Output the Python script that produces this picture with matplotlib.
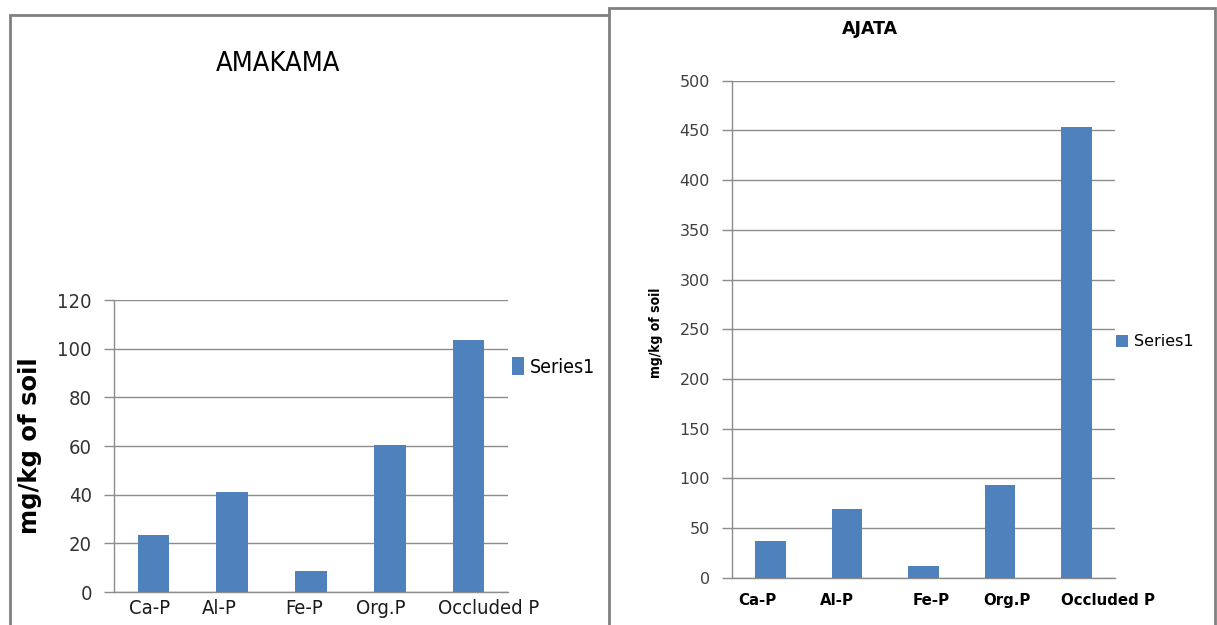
import matplotlib.pyplot as plt
from matplotlib.patches import Rectangle
from matplotlib import font_manager
from matplotlib.font_manager import FontProperties
from matplotlib.transforms import ScaledTranslation

# P fractions (mg/kg of soil) at the two sites
fractions = ['Ca-P', 'Al-P', 'Fe-P', 'Org.P', 'Occluded P']
amakama = [23.4, 41.0, 8.6, 60.5, 103.5]
ajata = [37, 69, 12, 93, 453]
amakama_ticks = [0, 20, 40, 60, 80, 100, 120]
ajata_ticks = [0, 50, 100, 150, 200, 250, 300, 350, 400, 450, 500]

bar_color = '#4F81BD'
grid_color = '#8C8C8C'


def find_font(keys, bold=False):
    for f in font_manager.fontManager.ttflist:
        n = f.fname.lower()
        if any(k in n for k in keys) and (('bold' in n) == bold) and 'oblique' not in n and 'italic' not in n:
            return f.fname
    return None


narrow_file = find_font(['sansnarrow', 'sanscondensed', 'sans-condensed', 'condensed'])
narrow_bold_file = find_font(['sansnarrow', 'sanscondensed', 'sans-condensed', 'condensed'], bold=True)


def narrow_font(size, bold=False):
    fn = narrow_bold_file if bold else narrow_file
    if fn:
        return FontProperties(fname=fn, size=size)
    return FontProperties(family='DejaVu Sans', size=size * 0.85,
                          weight='bold' if bold else 'normal')


def shift_labels(fig, ax, dx_px):
    # nudge each category label sideways (pixels)
    for t, dx in zip(ax.get_xticklabels(), dx_px):
        t.set_transform(t.get_transform() + ScaledTranslation(dx / 100, 0, fig.dpi_scale_trans))


fig = plt.figure(figsize=(12.17, 6.25), dpi=100)

# panel frames
fig.patches.append(Rectangle((10 / 1217, -0.1), 605 / 1217, 1.076, transform=fig.transFigure,
                             facecolor='white', edgecolor='#808080', lw=2, zorder=-2))
fig.patches.append(Rectangle((609 / 1217, -0.1), 606 / 1217, 1.087, transform=fig.transFigure,
                             facecolor='white', edgecolor='#808080', lw=2, zorder=-1))


def style_axes(ax, ticks, ymax):
    x = range(len(fractions))
    ax.set_xlim(-0.5, len(fractions) - 0.5)
    ax.set_ylim(0, ymax)
    ax.set_yticks(ticks)
    ax.set_xticks(list(x))
    ax.set_xticklabels(fractions)
    ax.set_facecolor('none')
    ax.yaxis.grid(True, color=grid_color, lw=1)
    ax.set_axisbelow(True)
    for s in ['top', 'right']:
        ax.spines[s].set_visible(False)
    for s in ['left', 'bottom']:
        ax.spines[s].set_color(grid_color)
        ax.spines[s].set_linewidth(1)
    ax.tick_params(axis='y', length=7, color=grid_color, width=1)
    ax.tick_params(axis='x', length=0)


# AMAKAMA
ax1 = fig.add_axes([114 / 1217, 1 - 592 / 625, 394 / 1217, 292 / 625])
bars1 = ax1.bar(range(len(fractions)), amakama, width=0.4, color=bar_color, label='Series1', zorder=3)
style_axes(ax1, amakama_ticks, 120)
for t in ax1.get_yticklabels():
    t.set_fontproperties(narrow_font(14.5))
    t.set_color('#333333')
for t in ax1.get_xticklabels():
    t.set_fontproperties(narrow_font(14.5))
    t.set_color('#1a1a1a')
ax1.tick_params(axis='x', pad=5)
ax1.tick_params(axis='y', pad=9)
shift_labels(fig, ax1, [-3.5, -12.5, -6.5, -9, 20.5])
ax1.set_ylabel('mg/kg of soil', fontsize=17.5, fontweight='bold', family='DejaVu Sans')
ax1.yaxis.set_label_coords(-0.183, 0.5)
fig.text(278 / 1217, 1 - 64 / 625, 'AMAKAMA', fontproperties=narrow_font(19.5),
         ha='center', va='center')
fig.legend(handles=[bars1], labels=['Series1'], loc='center left',
           bbox_to_anchor=(512 / 1217, 1 - 367 / 625), bbox_transform=fig.transFigure,
           frameon=False, borderpad=0, borderaxespad=0, handlelength=0.6, handleheight=1.0,
           handletextpad=0.3, prop=narrow_font(14))

# AJATA
ax2 = fig.add_axes([732 / 1217, 1 - 577.7 / 625, 383 / 1217, 497 / 625])
bars2 = ax2.bar(range(len(fractions)), ajata, width=0.4, color=bar_color, label='Series1', zorder=3)
style_axes(ax2, ajata_ticks, 500)
for t in ax2.get_yticklabels():
    t.set_fontsize(11.5)
    t.set_color('#404040')
for t in ax2.get_xticklabels():
    t.set_fontsize(10.8)
    t.set_fontweight('bold')
    t.set_color('black')
ax2.tick_params(axis='x', pad=11)
ax2.tick_params(axis='y', pad=9)
shift_labels(fig, ax2, [-12.7, -9.5, 7.5, 6.5, 31])
ax2.set_ylabel('mg/kg of soil', fontproperties=narrow_font(10, bold=True))
ax2.yaxis.set_label_coords(-0.18, 0.492)
fig.text(870 / 1217, 1 - 29 / 625, 'AJATA', fontsize=12.5, fontweight='bold',
         ha='center', va='center')
fig.legend(handles=[bars2], labels=['Series1'], loc='center left',
           bbox_to_anchor=(1116 / 1217, 1 - 342 / 625), bbox_transform=fig.transFigure,
           frameon=False, borderpad=0, borderaxespad=0, handlelength=0.75, handleheight=0.75,
           handletextpad=0.4, prop={'size': 11.5})

fig.savefig('out.png', dpi=100)
